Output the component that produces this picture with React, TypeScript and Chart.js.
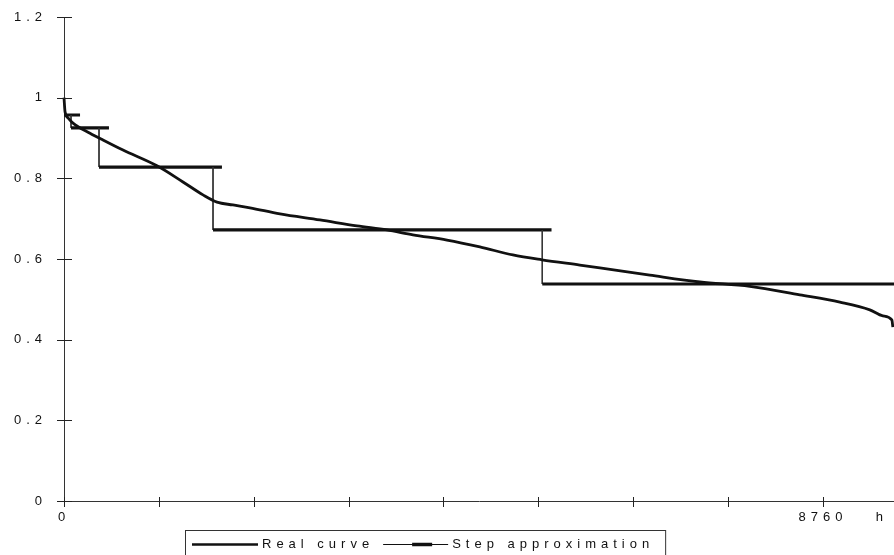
import React, { useEffect, useRef } from "react";
import { Chart, registerables } from "chart.js";

Chart.register(...registerables);

// ---- data ----
const realHours = [0, 12, 46, 104, 300, 450, 681, 1073, 1373, 1604, 1766, 1950, 2146, 2493, 2954, 3381, 3727, 4027, 4420, 4800, 5181, 5516, 5954, 6185, 6762, 7339, 7916, 8493, 8955, 9301, 9451, 9555, 9567];
const realValues = [1.0, 0.965, 0.95, 0.937, 0.912, 0.895, 0.87, 0.831, 0.791, 0.759, 0.741, 0.734, 0.727, 0.712, 0.697, 0.682, 0.672, 0.66, 0.647, 0.63, 0.61, 0.598, 0.585, 0.578, 0.56, 0.543, 0.532, 0.511, 0.493, 0.474, 0.459, 0.449, 0.431];

const stepLevels = [0.957, 0.925, 0.828, 0.672, 0.538];
const stepStarts = [0, 81, 404, 1720, 5520];
const stepEnds = [185, 519, 1823, 5627, 9580];

const xTickValues = [0, 1095, 2190, 3285, 4380, 5475, 6570, 7665, 8760];
const xTickLabels = ["0", "", "", "", "", "", "", "", "8760"];
const xUnitValue = 9440;
const xUnitLabel = "h";
const xMax = 9580;

const yTickValues = [0, 0.2, 0.4, 0.6, 0.8, 1.0, 1.2];
const yTickLabels = ["0", "0.2", "0.4", "0.6", "0.8", "1", "1.2"];

const seriesNames = ["Real curve", "Step approximation"];

// ---- helpers ----
const FONT_FAMILY = "'Liberation Sans', Arial, sans-serif";
const INK = "#111";

function buildStepPoints() {
  const pts: { x: number; y: number }[] = [];
  for (let i = 0; i < stepLevels.length; i++) {
    pts.push({ x: stepStarts[i], y: stepLevels[i] });
    pts.push({ x: stepEnds[i], y: stepLevels[i] });
    if (i < stepLevels.length - 1) {
      pts.push({ x: stepStarts[i + 1], y: stepLevels[i] });
    }
  }
  return pts;
}

const spacingPlugin = {
  id: "letterSpacing",
  beforeUpdate(chart: any) {
    chart.ctx.letterSpacing = "5px";
  },
  beforeDraw(chart: any) {
    chart.ctx.letterSpacing = "5px";
  },
};

const tickMarksPlugin = {
  id: "tickMarks",
  afterDraw(chart: any) {
    const { ctx, chartArea, scales } = chart;
    ctx.save();
    ctx.strokeStyle = "#222";
    ctx.lineWidth = 1;
    ctx.beginPath();
    xTickValues.forEach((v) => {
      const px = Math.round(scales.x.getPixelForValue(v)) + 0.5;
      ctx.moveTo(px, chartArea.bottom - 4);
      ctx.lineTo(px, chartArea.bottom + 6);
    });
    yTickValues.forEach((v) => {
      const py = Math.round(scales.y.getPixelForValue(v)) + 0.5;
      ctx.moveTo(chartArea.left - 7, py);
      ctx.lineTo(chartArea.left + 8, py);
    });
    ctx.stroke();
    ctx.restore();
  },
};

const boxLegendPlugin = {
  id: "boxLegend",
  afterDraw(chart: any) {
    const ctx = chart.ctx;
    const names = chart.data.datasets.map((d: any) => d.label);
    ctx.save();
    ctx.letterSpacing = "5px";
    ctx.font = `13px ${FONT_FAMILY}`;
    ctx.textBaseline = "middle";
    ctx.textAlign = "left";
    ctx.fillStyle = INK;
    ctx.strokeStyle = INK;
    const left = 185;
    const top = 530;
    const y = 544.5;
    let x = left + 7;
    // sample 1: solid line
    ctx.lineWidth = 2.4;
    ctx.beginPath();
    ctx.moveTo(x, y);
    ctx.lineTo(x + 66, y);
    ctx.stroke();
    x += 70;
    ctx.fillText(names[0], x, y);
    x += ctx.measureText(names[0]).width + 9;
    // sample 2: thin line with thick middle
    ctx.lineWidth = 1;
    ctx.beginPath();
    ctx.moveTo(x, y);
    ctx.lineTo(x + 65, y);
    ctx.stroke();
    ctx.lineWidth = 3.5;
    ctx.beginPath();
    ctx.moveTo(x + 29, y);
    ctx.lineTo(x + 49, y);
    ctx.stroke();
    x += 69;
    ctx.fillText(names[1], x, y);
    x += ctx.measureText(names[1]).width + 11;
    // frame
    ctx.lineWidth = 1;
    ctx.strokeStyle = "#333";
    ctx.strokeRect(left + 0.5, top + 0.5, x - left, 40);
    ctx.restore();
  },
};

export default function App() {
  const canvasRef = useRef<HTMLCanvasElement | null>(null);

  useEffect(() => {
    if (!canvasRef.current) return;
    const realData = realHours.map((h, i) => ({ x: h, y: realValues[i] }));
    const stepData = buildStepPoints();

    const chart = new Chart(canvasRef.current, {
      type: "line",
      data: {
        datasets: [
          {
            label: seriesNames[0],
            data: realData,
            borderColor: INK,
            borderWidth: 2.8,
            pointRadius: 0,
            cubicInterpolationMode: "monotone",
            fill: false,
            clip: 6,
          },
          {
            label: seriesNames[1],
            data: stepData,
            borderColor: INK,
            borderWidth: 3.2,
            pointRadius: 0,
            tension: 0,
            fill: false,
            clip: 6,
            borderCapStyle: "butt",
            segment: {
              borderWidth: (c: any) => (c.p0.parsed.x === c.p1.parsed.x ? 1 : 3.2),
              borderColor: (c: any) => (c.p0.parsed.x === c.p1.parsed.x ? "#333" : INK),
            },
          },
        ],
      },
      options: {
        animation: false,
        responsive: true,
        maintainAspectRatio: false,
        layout: { padding: { top: 17, bottom: 27, left: 0, right: 0 } },
        plugins: {
          legend: { display: false },
          tooltip: { enabled: false },
          title: { display: false },
        },
        scales: {
          x: {
            type: "linear",
            min: 0,
            max: xMax,
            grid: { display: false, drawTicks: false },
            border: { display: true, color: "#333", width: 1 },
            afterBuildTicks: (scale: any) => {
              scale.ticks = [...xTickValues, xUnitValue].map((v) => ({ value: v }));
            },
            afterFit: (scale: any) => {
              scale.height = 27;
              scale.paddingLeft = 0;
              scale.paddingRight = 0;
            },
            ticks: {
              autoSkip: false,
              maxRotation: 0,
              padding: 9,
              color: INK,
              font: { family: FONT_FAMILY, size: 13 },
              callback: (value: any) => {
                if (value === xUnitValue) return xUnitLabel;
                const idx = xTickValues.indexOf(value);
                return idx >= 0 ? xTickLabels[idx] : "";
              },
            },
          },
          y: {
            type: "linear",
            min: 0,
            max: 1.2,
            grid: { display: false, drawTicks: false },
            border: { display: true, color: "#333", width: 1 },
            afterBuildTicks: (scale: any) => {
              scale.ticks = yTickValues.map((v) => ({ value: v }));
            },
            afterFit: (scale: any) => {
              scale.width = 64;
              scale.paddingTop = 0;
              scale.paddingBottom = 0;
            },
            ticks: {
              padding: 17,
              color: INK,
              font: { family: FONT_FAMILY, size: 13 },
              callback: (_v: any, index: number) => yTickLabels[index],
            },
          },
        },
      },
      plugins: [spacingPlugin, tickMarksPlugin, boxLegendPlugin],
    } as any);

    return () => chart.destroy();
  }, []);

  return (
    <div style={{ position: "absolute", left: 0, top: 0, width: 894, height: 555, background: "#fff" }}>
      <canvas ref={canvasRef} />
    </div>
  );
}
